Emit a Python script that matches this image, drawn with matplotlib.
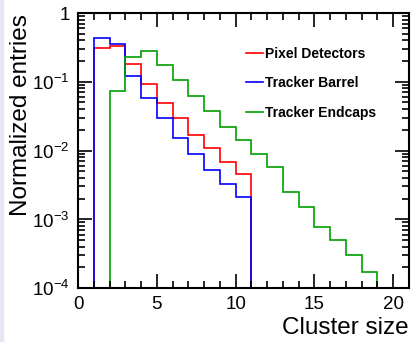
import numpy as np
import matplotlib
matplotlib.use('Agg')
import matplotlib.pyplot as plt
from matplotlib.ticker import FixedLocator, NullFormatter

plt.rcParams['font.family'] = ['Liberation Sans', 'DejaVu Sans']
plt.rcParams['mathtext.fontset'] = 'custom'
plt.rcParams['mathtext.rm'] = 'Liberation Sans'

# bin edges: cluster size 0..21, width 1
edges = np.arange(0, 22)

# normalized entries per bin (0 = empty bin)
pixel = [0, 0.306, 0.327, 0.181, 0.0918, 0.0485, 0.0294, 0.0168, 0.0108,
         0.0068, 0.0046, 0, 0, 0, 0, 0, 0, 0, 0, 0, 0]
barrel = [0, 0.428, 0.354, 0.120, 0.0586, 0.0297, 0.0154, 0.0088, 0.00515,
          0.0033, 0.00213, 0, 0, 0, 0, 0, 0, 0, 0, 0, 0]
endcaps = [0, 0, 0.0733, 0.226, 0.283, 0.175, 0.106, 0.062, 0.0376,
           0.0222, 0.0141, 0.0090, 0.00575, 0.00247, 0.00152, 0.00078,
           0.000499, 0.000302, 0.000169, 0, 0]

series = [('Pixel Detectors', pixel, '#ff0000'),
          ('Tracker Barrel', barrel, '#0000ff'),
          ('Tracker Endcaps', endcaps, '#00a000')]

fig = plt.figure(figsize=(4.11, 3.42), dpi=100)
fig.patches.append(plt.Rectangle((0, 0), 3 / 411, 1, transform=fig.transFigure,
                                 color='#e6e6f4', zorder=0))
ax = fig.add_axes([78 / 411, 1 - 288 / 342, (409 - 78) / 411, (288 - 13) / 342])

ymin = 1e-4
for name, vals, col in series:
    v = np.array(vals, dtype=float)
    v[v <= 0] = 1e-7
    ax.stairs(v, edges, color=col, lw=1.2, label=name, baseline=1e-7)

ax.set_yscale('log')
ax.set_xlim(0, 21)
ax.set_ylim(ymin, 1)

ax.xaxis.set_major_locator(FixedLocator([0, 5, 10, 15, 20]))
ax.xaxis.set_minor_locator(FixedLocator(np.arange(0, 22)))
ax.yaxis.set_major_locator(FixedLocator([1e-4, 1e-3, 1e-2, 1e-1, 1]))
minors = [m * 10.0 ** e for e in range(-4, 0) for m in range(2, 10)]
ax.yaxis.set_minor_locator(FixedLocator(minors))
ax.yaxis.set_minor_formatter(NullFormatter())
ax.set_yticklabels([r'$10^{-4}$', r'$10^{-3}$', r'$10^{-2}$', r'$10^{-1}$', '1'])

ax.tick_params(which='both', direction='in', top=True, right=True,
               labelsize=13.5, width=1.2, pad=6)
ax.tick_params(which='major', length=10)
ax.tick_params(which='minor', length=5)
for s in ax.spines.values():
    s.set_linewidth(1.5)

ax.set_xlabel('Cluster size', fontsize=17.5, loc='right')
ax.xaxis.set_label_coords(1.0, -0.105)
ax.set_ylabel('Normalized entries', fontsize=17.5, loc='top')
ax.yaxis.set_label_coords(-0.14, 0.995)

leg = ax.legend(loc='upper left', bbox_to_anchor=(0.47, 0.922), frameon=False,
                prop={'weight': 'bold', 'size': 10}, handlelength=1.25,
                handletextpad=0.1, labelspacing=1.1)

fig.savefig('out.png', dpi=100)
